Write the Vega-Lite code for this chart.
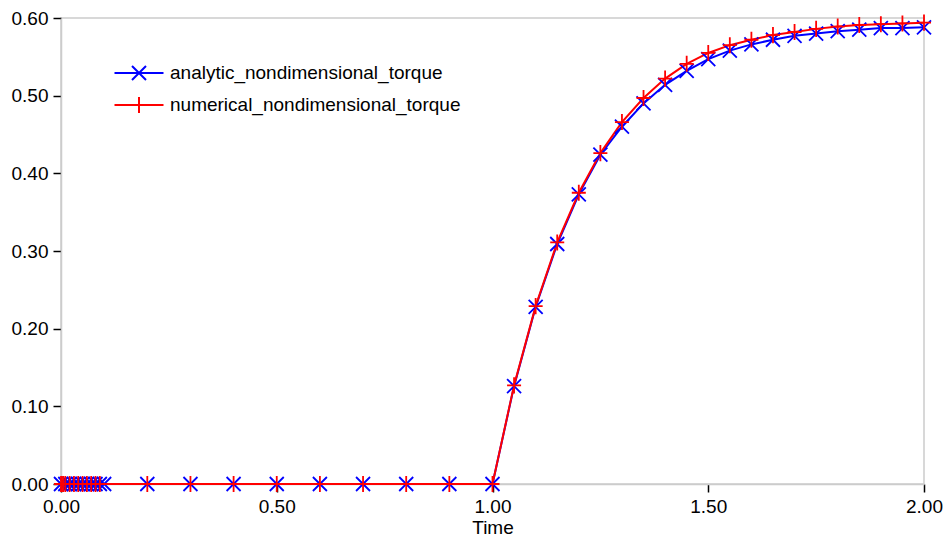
{
  "$schema": "https://vega.github.io/schema/vega-lite/v6.json",
  "width": 863,
  "height": 466,
  "autosize": {"type": "none"},
  "padding": {"left": 61, "top": 18, "right": 22, "bottom": 55},
  "background": "white",
  "config": {
    "font": "Liberation Sans",
    "view": {"stroke": "#cccccc", "strokeWidth": 1.5},
    "axis": {
      "labelFont": "Liberation Sans",
      "labelFontSize": 19,
      "labelColor": "#000000",
      "titleFont": "Liberation Sans",
      "titleFontSize": 19,
      "titleFontWeight": "normal",
      "titleColor": "#000000",
      "tickColor": "#000000",
      "tickSize": 8,
      "tickWidth": 1.5,
      "domainColor": "#cccccc",
      "domainWidth": 1.5,
      "grid": false,
      "labelFlush": false,
      "labelOverlap": false
    },
    "legend": {
      "labelFont": "Liberation Sans",
      "labelFontSize": 19,
      "labelColor": "#000000",
      "labelLimit": 0
    }
  },
  "data": {
    "values": [
      {"t": 0.0, "series": "analytic_nondimensional_torque", "v": 0},
      {"t": 0.01, "series": "analytic_nondimensional_torque", "v": 0},
      {"t": 0.02, "series": "analytic_nondimensional_torque", "v": 0},
      {"t": 0.03, "series": "analytic_nondimensional_torque", "v": 0},
      {"t": 0.04, "series": "analytic_nondimensional_torque", "v": 0},
      {"t": 0.05, "series": "analytic_nondimensional_torque", "v": 0},
      {"t": 0.06, "series": "analytic_nondimensional_torque", "v": 0},
      {"t": 0.07, "series": "analytic_nondimensional_torque", "v": 0},
      {"t": 0.08, "series": "analytic_nondimensional_torque", "v": 0},
      {"t": 0.09, "series": "analytic_nondimensional_torque", "v": 0},
      {"t": 0.1, "series": "analytic_nondimensional_torque", "v": 0},
      {"t": 0.2, "series": "analytic_nondimensional_torque", "v": 0},
      {"t": 0.3, "series": "analytic_nondimensional_torque", "v": 0},
      {"t": 0.4, "series": "analytic_nondimensional_torque", "v": 0},
      {"t": 0.5, "series": "analytic_nondimensional_torque", "v": 0},
      {"t": 0.6, "series": "analytic_nondimensional_torque", "v": 0},
      {"t": 0.7, "series": "analytic_nondimensional_torque", "v": 0},
      {"t": 0.8, "series": "analytic_nondimensional_torque", "v": 0},
      {"t": 0.9, "series": "analytic_nondimensional_torque", "v": 0},
      {"t": 1.0, "series": "analytic_nondimensional_torque", "v": 0},
      {"t": 1.05, "series": "analytic_nondimensional_torque", "v": 0.126},
      {"t": 1.1, "series": "analytic_nondimensional_torque", "v": 0.228},
      {"t": 1.15, "series": "analytic_nondimensional_torque", "v": 0.309},
      {"t": 1.2, "series": "analytic_nondimensional_torque", "v": 0.373},
      {"t": 1.25, "series": "analytic_nondimensional_torque", "v": 0.424},
      {"t": 1.3, "series": "analytic_nondimensional_torque", "v": 0.46},
      {"t": 1.35, "series": "analytic_nondimensional_torque", "v": 0.49},
      {"t": 1.4, "series": "analytic_nondimensional_torque", "v": 0.514},
      {"t": 1.45, "series": "analytic_nondimensional_torque", "v": 0.532},
      {"t": 1.5, "series": "analytic_nondimensional_torque", "v": 0.547},
      {"t": 1.55, "series": "analytic_nondimensional_torque", "v": 0.558},
      {"t": 1.6, "series": "analytic_nondimensional_torque", "v": 0.566},
      {"t": 1.65, "series": "analytic_nondimensional_torque", "v": 0.572},
      {"t": 1.7, "series": "analytic_nondimensional_torque", "v": 0.577},
      {"t": 1.75, "series": "analytic_nondimensional_torque", "v": 0.58},
      {"t": 1.8, "series": "analytic_nondimensional_torque", "v": 0.583},
      {"t": 1.85, "series": "analytic_nondimensional_torque", "v": 0.585},
      {"t": 1.9, "series": "analytic_nondimensional_torque", "v": 0.587},
      {"t": 1.95, "series": "analytic_nondimensional_torque", "v": 0.587},
      {"t": 2.0, "series": "analytic_nondimensional_torque", "v": 0.588},
      {"t": 0.0, "series": "numerical_nondimensional_torque", "v": 0},
      {"t": 0.002, "series": "numerical_nondimensional_torque", "v": 0},
      {"t": 0.005, "series": "numerical_nondimensional_torque", "v": 0},
      {"t": 0.01, "series": "numerical_nondimensional_torque", "v": 0},
      {"t": 0.02, "series": "numerical_nondimensional_torque", "v": 0},
      {"t": 0.03, "series": "numerical_nondimensional_torque", "v": 0},
      {"t": 0.04, "series": "numerical_nondimensional_torque", "v": 0},
      {"t": 0.05, "series": "numerical_nondimensional_torque", "v": 0},
      {"t": 0.06, "series": "numerical_nondimensional_torque", "v": 0},
      {"t": 0.07, "series": "numerical_nondimensional_torque", "v": 0},
      {"t": 0.08, "series": "numerical_nondimensional_torque", "v": 0},
      {"t": 0.09, "series": "numerical_nondimensional_torque", "v": 0},
      {"t": 0.2, "series": "numerical_nondimensional_torque", "v": 0},
      {"t": 0.3, "series": "numerical_nondimensional_torque", "v": 0},
      {"t": 0.4, "series": "numerical_nondimensional_torque", "v": 0},
      {"t": 0.5, "series": "numerical_nondimensional_torque", "v": 0},
      {"t": 0.6, "series": "numerical_nondimensional_torque", "v": 0},
      {"t": 0.7, "series": "numerical_nondimensional_torque", "v": 0},
      {"t": 0.8, "series": "numerical_nondimensional_torque", "v": 0},
      {"t": 0.9, "series": "numerical_nondimensional_torque", "v": 0},
      {"t": 1.0, "series": "numerical_nondimensional_torque", "v": 0},
      {"t": 1.05, "series": "numerical_nondimensional_torque", "v": 0.127},
      {"t": 1.1, "series": "numerical_nondimensional_torque", "v": 0.229},
      {"t": 1.15, "series": "numerical_nondimensional_torque", "v": 0.311},
      {"t": 1.2, "series": "numerical_nondimensional_torque", "v": 0.375},
      {"t": 1.25, "series": "numerical_nondimensional_torque", "v": 0.426},
      {"t": 1.3, "series": "numerical_nondimensional_torque", "v": 0.466},
      {"t": 1.35, "series": "numerical_nondimensional_torque", "v": 0.497},
      {"t": 1.4, "series": "numerical_nondimensional_torque", "v": 0.522},
      {"t": 1.45, "series": "numerical_nondimensional_torque", "v": 0.541},
      {"t": 1.5, "series": "numerical_nondimensional_torque", "v": 0.555},
      {"t": 1.55, "series": "numerical_nondimensional_torque", "v": 0.565},
      {"t": 1.6, "series": "numerical_nondimensional_torque", "v": 0.572},
      {"t": 1.65, "series": "numerical_nondimensional_torque", "v": 0.578},
      {"t": 1.7, "series": "numerical_nondimensional_torque", "v": 0.582},
      {"t": 1.75, "series": "numerical_nondimensional_torque", "v": 0.586},
      {"t": 1.8, "series": "numerical_nondimensional_torque", "v": 0.589},
      {"t": 1.85, "series": "numerical_nondimensional_torque", "v": 0.591},
      {"t": 1.9, "series": "numerical_nondimensional_torque", "v": 0.592},
      {"t": 1.95, "series": "numerical_nondimensional_torque", "v": 0.593},
      {"t": 2.0, "series": "numerical_nondimensional_torque", "v": 0.594}
    ]
  },
  "encoding": {
    "x": {
      "field": "t",
      "type": "quantitative",
      "scale": {"domain": [0, 2], "nice": false, "zero": false},
      "axis": {
        "title": "Time",
        "values": [0, 0.5, 1, 1.5, 2],
        "format": ".2f",
        "labelPadding": 5,
        "titlePadding": 2
      }
    },
    "y": {
      "field": "v",
      "type": "quantitative",
      "scale": {"domain": [0, 0.6], "nice": false},
      "axis": {
        "title": null,
        "values": [0, 0.1, 0.2, 0.3, 0.4, 0.5, 0.6],
        "format": ".2f",
        "labelPadding": 5
      }
    },
    "color": {
      "field": "series",
      "type": "nominal",
      "scale": {
        "domain": ["analytic_nondimensional_torque", "numerical_nondimensional_torque"],
        "range": ["#0000ff", "#ff0000"]
      },
      "legend": {
        "title": null,
        "orient": "none",
        "legendX": 67,
        "legendY": 44,
        "padding": 0,
        "symbolSize": 400,
        "symbolType": "M-2.45,0L2.45,0",
        "symbolStrokeWidth": 2,
        "symbolFillColor": "transparent",
        "labelOffset": 20,
        "rowPadding": 9,
        "labelBaseline": "middle",
        "labelLimit": 0,
        "encode": {
          "symbols": {
            "update": {
              "shape": {
                "signal": "datum.value == 'analytic_nondimensional_torque' ? 'M-2.45,0L2.45,0M-0.7,-0.7L0.7,0.7M-0.7,0.7L0.7,-0.7' : 'M-2.45,0L2.45,0M0,-0.8L0,0.8'"
              },
              "strokeWidth": {"value": 2},
              "fill": {"value": "transparent"}
            }
          }
        }
      }
    }
  },
  "layer": [
    {
      "mark": {"type": "line", "strokeWidth": 2}
    },
    {
      "transform": [{"filter": "datum.series == 'analytic_nondimensional_torque'"}],
      "mark": {"type": "point", "filled": false, "strokeWidth": 1.8, "size": 196, "opacity": 1, "shape": "M-1,-1L1,1M-1,1L1,-1"}
    },
    {
      "transform": [{"filter": "datum.series == 'numerical_nondimensional_torque'"}],
      "mark": {"type": "point", "filled": false, "strokeWidth": 1.8, "size": 196, "opacity": 1, "shape": "M-1,0L1,0M0,-1.15L0,1.15"}
    }
  ]
}
